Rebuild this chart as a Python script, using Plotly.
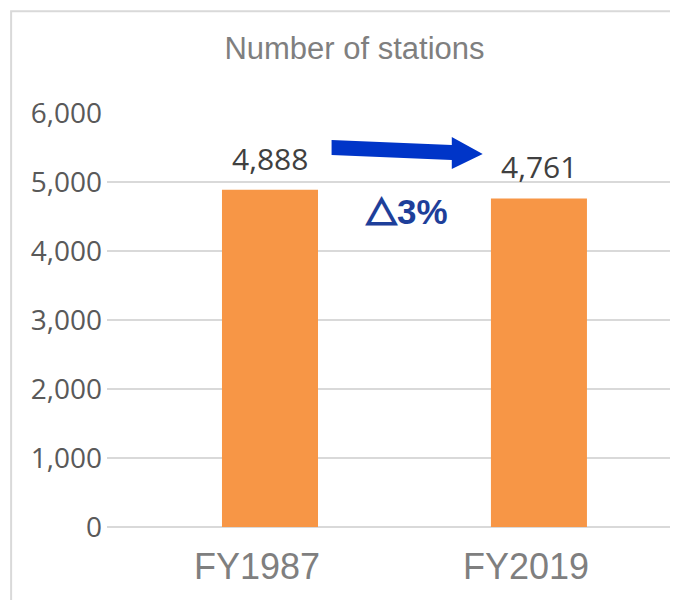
import plotly.graph_objects as go

# ---- data ----
categories = ["FY1987", "FY2019"]
stations = [4888, 4761]
value_labels = ["4,888", "4,761"]
change_symbol = "△"
change_value = "3%"
title_text = "Number of stations"
y_ticks = [0, 1000, 2000, 3000, 4000, 5000, 6000]
y_tick_text = ["0", "1,000", "2,000", "3,000", "4,000", "5,000", "6,000"]

BAR = "#F79646"
GRID = "#D9D9D9"
DELTA = "#1E3F9A"

# page body has an 8px margin, so the figure is sized to fit the window
W, H = 670, 592

fig = go.Figure()
fig.add_trace(go.Bar(
    x=categories, y=stations, marker=dict(color=BAR, line=dict(width=0)),
    width=0.357, hoverinfo="skip",
))

annotations = []
for c, v, t in zip(categories, stations, value_labels):
    annotations.append(dict(
        x=c, y=v, xref="x", yref="y", text=t, showarrow=False,
        yanchor="bottom", yshift=9,
        font=dict(family="Open Sans, Liberation Sans, Arial", size=30, color="#404040"),
    ))

# change label between the bars
annotations.append(dict(
    x=0.51, y=4594, xref="x", yref="y",
    text=("<b><span style='font-family:Noto Sans CJK JP;font-size:31px;"
          f"stroke:{DELTA};stroke-width:2.2px'>" + change_symbol +
          "</span>" + change_value + "</b>"),
    showarrow=False, xanchor="center", yanchor="middle",
    font=dict(family="Liberation Sans, Arial", size=35, color=DELTA),
))

# arrow polygon (decorative), in data coordinates
ax0, ax1, ax2 = 0.229, 0.676, 0.791
arrow_path = (
    f"M {ax0},5609 L {ax1},5536 L {ax1},5652 L {ax2},5406 "
    f"L {ax1},5188 L {ax1},5319 L {ax0},5391 Z"
)
shapes = [
    dict(type="path", path=arrow_path, xref="x", yref="y",
         fillcolor="#0035C8", line=dict(width=0)),
    # outer chart border (top and left visible)
    dict(type="rect", xref="paper", yref="paper",
         x0=-0.170, x1=1.10, y0=-0.3, y1=1.246,
         line=dict(color=GRID, width=2), fillcolor="rgba(0,0,0,0)", layer="below"),
]

fig.update_layout(
    width=W, height=H,
    margin=dict(l=99, r=7, t=105, b=73),
    paper_bgcolor="white", plot_bgcolor="white",
    showlegend=False,
    title=dict(text=title_text, x=346.5 / W, y=1 - 40 / H,
               xref="container", yref="container",
               xanchor="center", yanchor="middle",
               font=dict(family="Liberation Sans, Arial", size=31, color="#7F7F7F")),
    annotations=annotations,
    shapes=shapes,
    xaxis=dict(
        type="category", range=[-0.606, 1.491],
        showgrid=False, showline=False, zeroline=False, ticks="",
        ticklabelstandoff=15, ticklabelshift=-13,
        tickfont=dict(family="Liberation Sans, Arial", size=36, color="#7F7F7F"),
    ),
    yaxis=dict(
        range=[0, 6000], tickvals=y_ticks, ticktext=y_tick_text,
        showgrid=True, gridcolor=GRID, gridwidth=2,
        zeroline=True, zerolinecolor=GRID, zerolinewidth=2,
        showline=False, ticks="", ticklabelstandoff=4,
        tickfont=dict(family="Open Sans, Liberation Sans, Arial", size=28, color="#595959"),
    ),
)

fig.write_html("out.html")
